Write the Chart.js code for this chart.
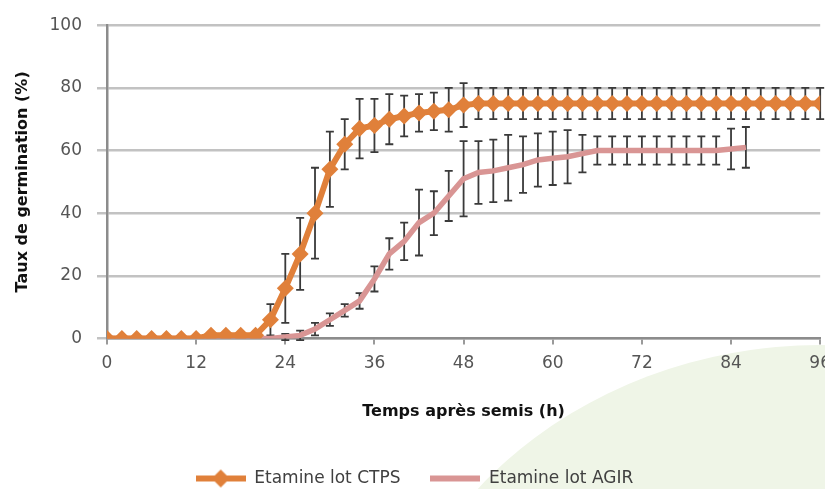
<!DOCTYPE html>
<html>
<head>
<meta charset="utf-8">
<script src="https://cdn.jsdelivr.net/npm/chart.js@4.4.1/dist/chart.umd.min.js"></script>
<style>
  html, body { margin: 0; padding: 0; width: 825px; height: 489px; overflow: hidden; background: #fff; }
  #blob { position: absolute; left: 370px; top: 345px; width: 900px; height: 820px; border-radius: 50%; background: #eff5e7; }
  #wrap { position: absolute; left: 0; top: 0; width: 840px; height: 500px; }
</style>
</head>
<body>
<div id="blob"></div>
<div id="wrap"><canvas id="germ-chart" width="840" height="500"></canvas></div>
<script>
// heures de mesure et taux de germination (%)
const hoursCtps = [0, 2, 4, 6, 8, 10, 12, 14, 16, 18, 20, 22, 24, 26, 28, 30, 32, 34, 36, 38, 40, 42, 44, 46, 48,
  50, 52, 54, 56, 58, 60, 62, 64, 66, 68, 70, 72, 74, 76, 78, 80, 82, 84, 86, 88, 90, 92, 94, 96];
const valuesCtps = [0, 0, 0, 0, 0, 0, 0, 1, 1, 1, 1, 6, 16, 27, 40, 54, 62, 67, 68, 70, 71, 72, 72.5, 73, 74.5,
  75, 75, 75, 75, 75, 75, 75, 75, 75, 75, 75, 75, 75, 75, 75, 75, 75, 75, 75, 75, 75, 75, 75, 75];
const errorsCtps = [0, 0, 0, 0, 0, 0, 0, 0, 0, 0, 0, 5, 11, 11.5, 14.5, 12, 8, 9.5, 8.5, 8, 6.5, 6, 6, 7, 7,
  5, 5, 5, 5, 5, 5, 5, 5, 5, 5, 5, 5, 5, 5, 5, 5, 5, 5, 5, 5, 5, 5, 5, 5];

const hoursAgir = [0, 2, 4, 6, 8, 10, 12, 14, 16, 18, 20, 22, 24, 26, 28, 30, 32, 34, 36, 38, 40, 42, 44, 46, 48,
  50, 52, 54, 56, 58, 60, 62, 64, 66, 68, 70, 72, 74, 76, 78, 80, 82, 84, 86];
const valuesAgir = [0, 0, 0, 0, 0, 0, 0, 0, 0, 0, 0, 0, 0.5, 1, 3, 6, 9, 12, 19, 27, 31, 37, 40, 45.5, 51,
  53, 53.5, 54.5, 55.5, 57, 57.5, 58, 59, 60, 60, 60, 60, 60, 60, 60, 60, 60, 60.5, 61];
const errorsAgir = [0, 0, 0, 0, 0, 0, 0, 0, 0, 0, 0, 0, 1, 1.5, 2, 2, 2, 2.5, 4, 5, 6, 10.5, 7, 8, 12,
  10, 10, 10.5, 9, 8.5, 8.5, 8.5, 6, 4.5, 4.5, 4.5, 4.5, 4.5, 4.5, 4.5, 4.5, 4.5, 6.5, 6.5];

const xTicks = [0, 12, 24, 36, 48, 60, 72, 84, 96];
const yTicks = [0, 20, 40, 60, 80, 100];

const orange = '#E0803A';
const pink = '#D99594';
const fontName = "'DejaVu Sans', sans-serif";

function toPoints(xs, ys) {
  return xs.map(function (x, i) { return { x: x, y: ys[i] }; });
}

// petite image ligne + marqueur pour la légende
function legendIcon(color, marker) {
  const c = document.createElement('canvas');
  c.width = 50; c.height = 20;
  const g = c.getContext('2d');
  g.strokeStyle = color;
  g.lineWidth = 6;
  g.beginPath(); g.moveTo(0, 10); g.lineTo(50, 10); g.stroke();
  if (marker) {
    g.fillStyle = color;
    g.beginPath(); g.moveTo(25, 1); g.lineTo(34, 10); g.lineTo(25, 19); g.lineTo(16, 10); g.closePath(); g.fill();
  }
  return c;
}
const icons = [legendIcon(orange, true), legendIcon(pink, false)];

const errorBars = {
  id: 'errorBars',
  beforeDatasetsDraw(chart) {
    const ctx = chart.ctx;
    const xs = chart.scales.x, ys = chart.scales.y;
    const sets = [[hoursCtps, valuesCtps, errorsCtps], [hoursAgir, valuesAgir, errorsAgir]];
    ctx.save();
    ctx.strokeStyle = '#3a3a3a';
    ctx.lineWidth = 1.8;
    sets.forEach(function (s) {
      s[0].forEach(function (h, i) {
        const e = s[2][i];
        if (!e) return;
        const px = xs.getPixelForValue(h);
        const top = ys.getPixelForValue(s[1][i] + e);
        const bot = ys.getPixelForValue(s[1][i] - e);
        ctx.beginPath();
        ctx.moveTo(px, top); ctx.lineTo(px, bot);
        ctx.moveTo(px - 4, top); ctx.lineTo(px + 4, top);
        ctx.moveTo(px - 4, bot); ctx.lineTo(px + 4, bot);
        ctx.stroke();
      });
    });
    ctx.restore();
  }
};

const data = {
  datasets: [{
    label: 'Etamine lot CTPS',
    data: toPoints(hoursCtps, valuesCtps),
    borderColor: orange,
    backgroundColor: orange,
    borderWidth: 6,
    pointStyle: 'rectRot',
    pointRadius: 8.5,
    pointBorderWidth: 0,
    tension: 0
  }, {
    label: 'Etamine lot AGIR',
    data: toPoints(hoursAgir, valuesAgir),
    borderColor: pink,
    backgroundColor: pink,
    borderWidth: 5.5,
    pointRadius: 0,
    tension: 0
  }]
};

const config = {
  type: 'line',
  data: data,
  plugins: [errorBars],
  options: {
    responsive: false,
    animation: false,
    layout: { padding: { left: 0, top: 24, right: 11, bottom: 3 } },
    plugins: {
      tooltip: { enabled: false },
      legend: {
        position: 'bottom',
        labels: {
          usePointStyle: true,
          pointStyleWidth: 50,
          padding: 30,
          color: '#404040',
          font: { family: fontName, size: 17 },
          generateLabels: function (chart) {
            return chart.data.datasets.map(function (ds, i) {
              return { text: ds.label, pointStyle: icons[i], datasetIndex: i, fontColor: '#404040', lineWidth: 0 };
            });
          }
        }
      }
    },
    scales: {
      x: {
        type: 'linear',
        min: 0, max: 96,
        afterBuildTicks: function (axis) { axis.ticks = xTicks.map(function (v) { return { value: v }; }); },
        afterFit: function (axis) { axis.height = 101.5; },
        grid: { drawOnChartArea: false, drawTicks: true, tickLength: 6, color: '#9a9a9a', lineWidth: 2 },
        border: { color: '#8c8c8c', width: 2.5 },
        ticks: { color: '#555', padding: 9, font: { family: fontName, size: 17 } },
        title: { display: true, text: 'Temps après semis (h)', color: '#111', padding: { bottom: 19 },
          font: { family: fontName, size: 16, weight: 'bold' } }
      },
      y: {
        min: 0, max: 100,
        afterBuildTicks: function (axis) { axis.ticks = yTicks.map(function (v) { return { value: v }; }); },
        afterFit: function (axis) { axis.width = 107; },
        grid: { color: '#c2c2c2', lineWidth: 2.5, tickLength: 10 },
        border: { color: '#8c8c8c', width: 2.5 },
        ticks: { color: '#555', padding: 15, font: { family: fontName, size: 17 } },
        title: { display: true, text: 'Taux de germination (%)', color: '#111', padding: { top: 13 },
          font: { family: fontName, size: 16, weight: 'bold' } }
      }
    }
  }
};

const germChart = new Chart(document.getElementById('germ-chart'), config);
</script>
</body>
</html>
